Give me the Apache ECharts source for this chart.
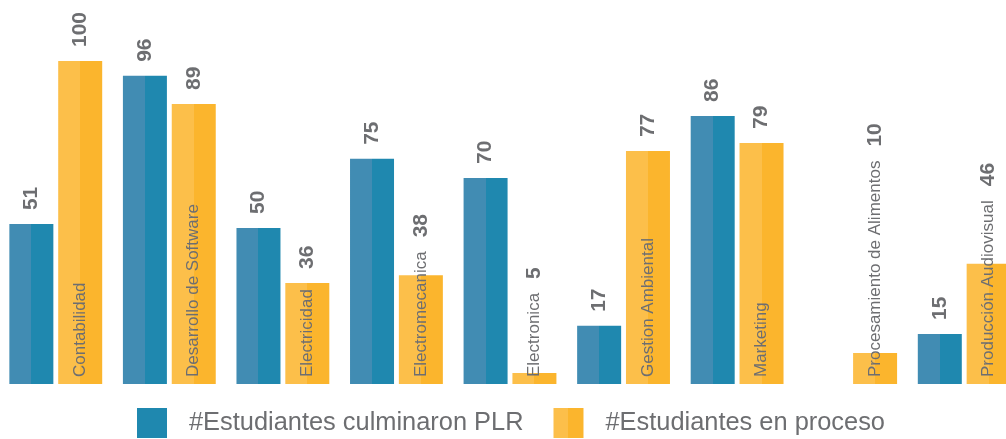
<!DOCTYPE html>
<html>
<head>
<meta charset="utf-8">
<script src="https://cdn.jsdelivr.net/npm/echarts@6/dist/echarts.min.js"></script>
<style>
html,body{margin:0;padding:0;background:#fff;}
#chart{width:1006px;height:439px;}
</style>
</head>
<body>
<div id="chart"></div>
<script>
// datos
var carreras = ['Contabilidad','Desarrollo de Software','Electricidad','Electromecanica','Electronica','Gestion Ambiental','Marketing','Procesamiento de Alimentos','Producción Audiovisual'];
// altura de las barras tal como se ven en la imagen (100 = barra mas alta)
var culminaron = [49.5, 95.4, 48.3, 69.7, 63.8, 18, 83, '-', 15.5];
var enProceso = [100, 86.7, 31.3, 33.7, 3.4, 72.1, 74.6, 9.6, 37.2];
// numeros impresos encima de cada barra
var textoCulminaron = [51, 96, 50, 75, 70, 17, 86, '', 15];
var textoEnProceso = [100, 89, 36, 38, 5, 77, 79, 10, 46];
var base = [0, 0, 0, 0, 0, 0, 0, 0, 0]; // solo para poner el nombre dentro de la barra

var gris = '#6d6e71';
var fuenteNombre = 17;

// ancho del texto del nombre, para subir el valor si no cabe
var ctx = document.createElement('canvas').getContext('2d');
ctx.font = fuenteNombre + 'px "Liberation Sans"';
function anchoTexto(t){ return ctx.measureText(t).width; }

function dosTonos(claro, oscuro){
	return {
		type:'linear', x:0, y:0, x2:1, y2:0,
		colorStops:[
			{offset:0, color:claro},
			{offset:0.5, color:claro},
			{offset:0.5, color:oscuro},
			{offset:1, color:oscuro}
		]
	};
}

function etiquetaValor(textos){
	return {
		show:true,
		position:'top',
		rotate:90,
		align:'left',
		verticalAlign:'middle',
		distance:14,
		color:gris,
		fontFamily:'Liberation Sans',
		fontWeight:'bold',
		fontSize:21,
		formatter:function(p){ return textos[p.dataIndex]; }
	};
}

var myChart = echarts.init(document.getElementById('chart'));
var option = {
	animation:false,
	legend:{
		data:[
			{name:'#Estudiantes culminaron PLR', itemStyle:{color:'#1f88af'}},
			{name:'#Estudiantes en proceso'}
		],
		icon:'rect',
		left:137,
		bottom:1,
		padding:0,
		itemWidth:30,
		itemHeight:30,
		itemGap:30,
		textStyle:{
			color:gris,
			fontFamily:'Liberation Sans',
			fontSize:25.4,
			padding:[0,0,0,17]
		}
	},
	grid:{
		left:-1,
		width:1022,
		top:61,
		bottom:55,
		outerBoundsMode:'none'
	},
	xAxis:{
		type:'category',
		data:carreras,
		show:false
	},
	yAxis:{
		type:'value',
		min:0,
		max:100,
		show:false
	},
	series:[
		{
			name:'#Estudiantes culminaron PLR',
			type:'bar',
			barWidth:44,
			barGap:'11%',
			data:culminaron,
			itemStyle:{color:dosTonos('#418cb3','#1f88af')},
			label:etiquetaValor(textoCulminaron)
		},
		{
			name:'nombre',
			type:'bar',
			stack:'proceso',
			barWidth:44,
			data:base,
			itemStyle:{color:'rgba(0,0,0,0)'},
			label:{
				show:true,
				position:'insideBottom',
				rotate:90,
				align:'left',
				verticalAlign:'middle',
				distance:7,
				color:gris,
				fontFamily:'Liberation Sans',
				fontSize:fuenteNombre,
				formatter:function(p){ return p.name; }
			}
		},
		{
			name:'#Estudiantes en proceso',
			type:'bar',
			stack:'proceso',
			barWidth:44,
			barGap:'11%',
			data:enProceso,
			itemStyle:{color:dosTonos('#fcbf4a','#fbb52d')},
			label:etiquetaValor(textoEnProceso),
			labelLayout:function(p){
				var r = p.rect;
				var abajo = r.y + r.height;
				var tope = abajo - 7 - anchoTexto(carreras[p.dataIndex]) - 14;
				return {y:Math.min(r.y - 14, tope)};
			}
		}
	]
};
myChart.setOption(option, true);
</script>
</body>
</html>
